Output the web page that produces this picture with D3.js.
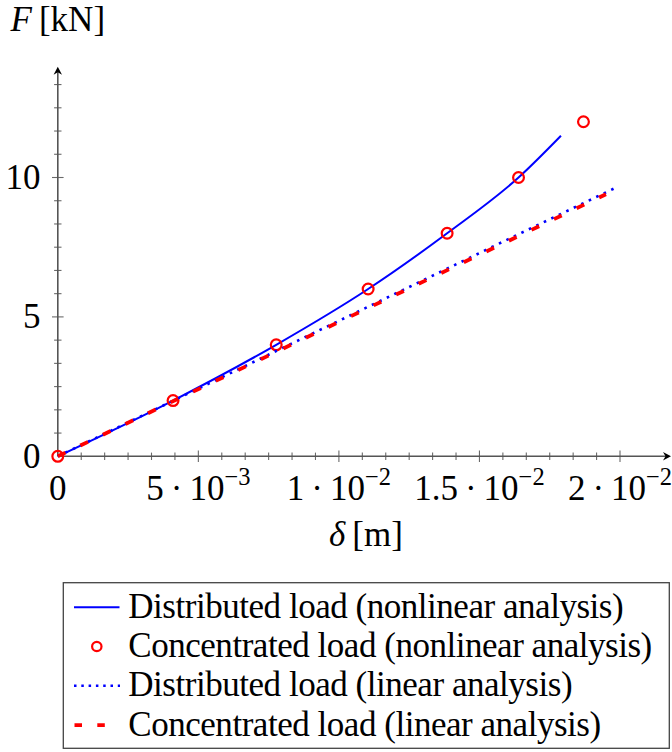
<!DOCTYPE html>
<html><head><meta charset="utf-8">
<script src="https://cdn.jsdelivr.net/npm/d3@7"></script>
<style>
body{margin:0;background:#fff}
svg{display:block}
text{font-family:"Liberation Serif","Times New Roman",serif;fill:#000}
</style>
</head><body>
<svg id="chart" width="672" height="752"></svg>
<script>
// ---- data ----
const distNonlinDelta = [0, 0.0041, 0.00777, 0.01104, 0.01385, 0.01639, 0.0179];
const distNonlinF     = [0, 2, 4, 6, 8, 10, 11.5];
const concNonlinDelta = [0, 0.0041, 0.00777, 0.01104, 0.01385, 0.01639, 0.0187];
const concNonlinF     = [0, 2, 4, 6, 8, 10, 12];
const distLinDelta    = [0, 0.00412, 0.00823, 0.01235, 0.01646, 0.0199];
const distLinF        = [0, 2, 4, 6, 8, 9.66];
const concLinDelta    = [0, 0.00415, 0.0083, 0.01245, 0.0166, 0.0195];
const concLinF        = [0, 2, 4, 6, 8, 9.4];

const xTickValues    = [0, 0.005, 0.01, 0.015, 0.02];
const xTickMantissa  = ["0", "5", "1", "1.5", "2"];
const xTickExponent  = [null, "\u22123", "\u22122", "\u22122", "\u22122"];
const yTickValues    = [0, 5, 10];
const yTickLabels    = ["0", "5", "10"];
const legendLabels   = [
  "Distributed load (nonlinear analysis)",
  "Concentrated load (nonlinear analysis)",
  "Distributed load (linear analysis)",
  "Concentrated load (linear analysis)"
];

const svg = d3.select("#chart");

const x = d3.scaleLinear().domain([0, 0.02]).range([57.8, 620]);
const y = d3.scaleLinear().domain([0, 10]).range([456.3, 177.5]);

const fs = 35;

// ---- axes ----
const axisG = svg.append("g");
const x0 = x(0), y0 = y(0);
const xEnd = 671, yTop = 66.7;

const xMinor = d3.range(0, 25).map(i => i * 0.02 / 24);
const yMinor = d3.range(0, 17).map(i => i * 5 / 6);
const isMajor = (v, step) => Math.abs(v / step - Math.round(v / step)) < 1e-6;

axisG.selectAll("line.xt").data(xMinor.filter(v => v > 0)).join("line")
  .attr("x1", d => x(d)).attr("x2", d => x(d))
  .attr("y1", d => y0 - (isMajor(d, 0.005) ? 5.8 : 3.7))
  .attr("y2", d => y0 + (isMajor(d, 0.005) ? 5.8 : 3.7))
  .attr("stroke", "#6a6a6a").attr("stroke-width", 1.1);

axisG.selectAll("line.yt").data(yMinor.filter(v => v > 0)).join("line")
  .attr("y1", d => y(d)).attr("y2", d => y(d))
  .attr("x1", d => x0 - (isMajor(d, 5) ? 5.8 : 3.7))
  .attr("x2", d => x0 + (isMajor(d, 5) ? 5.8 : 3.7))
  .attr("stroke", "#6a6a6a").attr("stroke-width", 1.1);

axisG.append("line").attr("x1", x0).attr("x2", xEnd - 4).attr("y1", y0).attr("y2", y0)
  .attr("stroke", "#555").attr("stroke-width", 1.6);
axisG.append("line").attr("x1", x0).attr("x2", x0).attr("y1", y0).attr("y2", yTop + 4)
  .attr("stroke", "#555").attr("stroke-width", 1.6);
axisG.append("path")
  .attr("d", `M${xEnd},${y0} L${xEnd-8},${y0-4.2} L${xEnd-5.5},${y0} L${xEnd-8},${y0+4.2} Z`)
  .attr("fill", "#000");
axisG.append("path")
  .attr("d", `M${x0},${yTop} L${x0-4.2},${yTop+8} L${x0},${yTop+5.5} L${x0+4.2},${yTop+8} Z`)
  .attr("fill", "#000");

const xl = axisG.selectAll("text.xl").data(xTickValues).join("text")
  .attr("x", d => x(d)).attr("y", y0 + 43.5)
  .attr("text-anchor", "middle").attr("font-size", fs);
xl.each(function(d, i) {
  const t = d3.select(this);
  if (xTickExponent[i] === null) { t.text(xTickMantissa[i]); return; }
  t.append("tspan").text(xTickMantissa[i] + "\u2009\u00B7\u200910");
  t.append("tspan").attr("dy", -0.42 * fs).attr("font-size", 0.7 * fs).text(xTickExponent[i]);
});

axisG.selectAll("text.yl").data(yTickValues).join("text")
  .attr("x", 40.5).attr("y", d => y(d) + 0.33 * fs)
  .attr("text-anchor", "end").attr("font-size", fs)
  .text((d, i) => yTickLabels[i]);

const ft = svg.append("text").attr("x", x0).attr("y", 30.5)
  .attr("text-anchor", "middle").attr("font-size", fs);
ft.append("tspan").attr("font-style", "italic").text("F");
ft.append("tspan").text("\u2009[kN]");

const dt = svg.append("text").attr("x", 366).attr("y", 545.5)
  .attr("text-anchor", "middle").attr("font-size", fs);
dt.append("tspan").attr("font-style", "italic").text("\u03B4");
dt.append("tspan").text("\u2009[m]");

// ---- series ----
const zip = (a, b) => a.map((v, i) => [v, b[i]]);
const curveLine = d3.line().x(d => x(d[0])).y(d => y(d[1])).curve(d3.curveMonotoneX);
const lineLin = d3.line().x(d => x(d[0])).y(d => y(d[1]));

svg.append("path").datum(zip(distNonlinDelta, distNonlinF))
  .attr("d", curveLine)
  .attr("fill", "none").attr("stroke", "#0000ff").attr("stroke-width", 2);

svg.selectAll("circle.cn").data(zip(concNonlinDelta, concNonlinF)).join("circle")
  .attr("cx", d => x(d[0])).attr("cy", d => y(d[1])).attr("r", 5.4)
  .attr("fill", "none").attr("stroke", "#ff0000").attr("stroke-width", 2.2);

svg.append("path").datum(zip(distLinDelta, distLinF))
  .attr("d", lineLin)
  .attr("fill", "none").attr("stroke", "#0000ff").attr("stroke-width", 2.6)
  .attr("stroke-dasharray", "2.6 5.7");

svg.append("path").datum(zip(concLinDelta, concLinF))
  .attr("d", lineLin)
  .attr("fill", "none").attr("stroke", "#ff0000").attr("stroke-width", 3.8)
  .attr("stroke-dasharray", "8.5 16.5");

// ---- legend ----
const lg = svg.append("g");
lg.append("rect").attr("x", 63.3).attr("y", 582.7).attr("width", 606).attr("height", 165.6)
  .attr("fill", "#fff").attr("stroke", "#444").attr("stroke-width", 1.3);

const base0 = 617.7, rowH = 39.3;
const legendTexts = [];
legendLabels.forEach((lab, i) => {
  const b = base0 + i * rowH, cy = b - 10.5;
  if (i === 0) {
    lg.append("line").attr("x1", 74).attr("x2", 119.5).attr("y1", cy).attr("y2", cy)
      .attr("stroke", "#0000ff").attr("stroke-width", 2);
  } else if (i === 1) {
    lg.append("circle").attr("cx", 96.8).attr("cy", cy).attr("r", 4.7)
      .attr("fill", "none").attr("stroke", "#ff0000").attr("stroke-width", 2.2);
  } else if (i === 2) {
    lg.append("line").attr("x1", 74).attr("x2", 120).attr("y1", cy).attr("y2", cy)
      .attr("stroke", "#0000ff").attr("stroke-width", 2.6).attr("stroke-dasharray", "2.5 4.8");
  } else {
    lg.append("line").attr("x1", 74.5).attr("x2", 105).attr("y1", cy).attr("y2", cy)
      .attr("stroke", "#ff0000").attr("stroke-width", 3.8).attr("stroke-dasharray", "7.5 15.3");
  }
  legendTexts.push(lg.append("text").attr("x", 128.3).attr("y", b).attr("font-size", fs).text(lab));
});
// fit letter spacing using the rendered bounding box of the longest entry
const longest = legendTexts[1].node();
const w0 = longest.getBBox().width;
let ls = (523.5 - w0) / (legendLabels[1].length);
ls = Math.max(-1, Math.min(1.2, ls));
legendTexts.forEach(t => t.attr("letter-spacing", ls));
const w1 = longest.getBBox().width;
if (Math.abs(w1 - 523.5) > 2) {
  const ls2 = ls + (523.5 - w1) / legendLabels[1].length;
  legendTexts.forEach(t => t.attr("letter-spacing", Math.max(-1, Math.min(1.2, ls2))));
}
</script>
</body></html>
